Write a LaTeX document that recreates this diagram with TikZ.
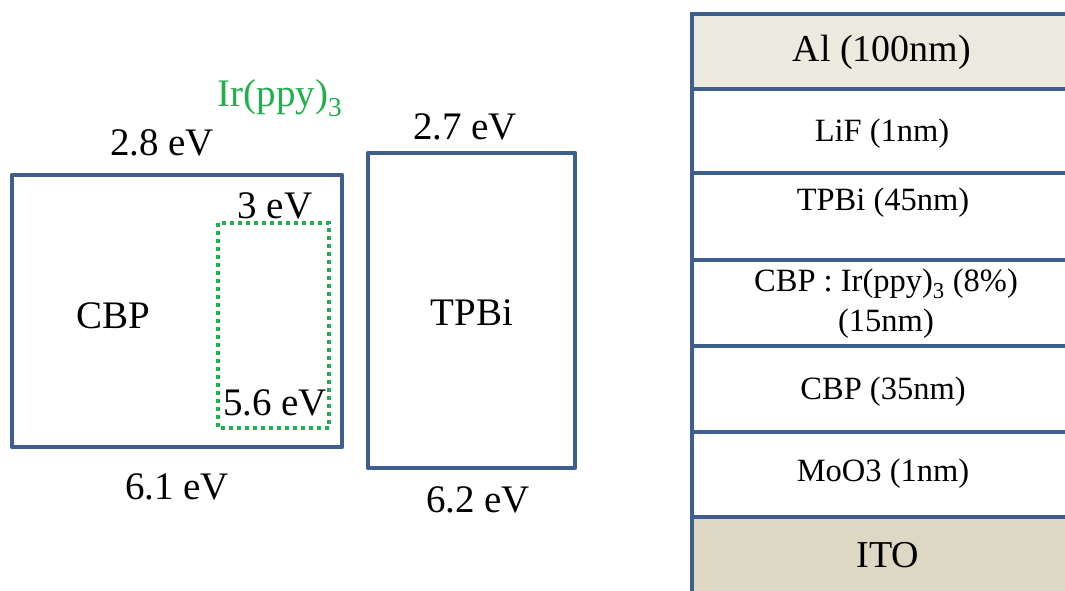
\documentclass[tikz,border=0pt]{standalone}
\usepackage{fontspec}
\setmainfont{Liberation Serif}
\definecolor{edge}{HTML}{3E5F8C}
\definecolor{dopant}{HTML}{22B04E}
\definecolor{alfill}{HTML}{ECE9DE}
\definecolor{itofill}{HTML}{DDD8C3}
\tikzset{
  level/.style={draw=edge, line width=4.6pt, line join=round},
  guest/.style={draw=dopant, line width=4.2pt, dash pattern=on 4pt off 4pt},
  big/.style={font=\fontsize{39}{44}\selectfont, inner sep=0pt},
  unit/.style={font=\fontsize{38}{44}\selectfont, inner sep=0pt},
  layer/.style={font=\fontsize{32.5}{40}\selectfont, inner sep=0pt, align=center},
  sep/.style={draw=edge, line width=4.6pt},
}
\begin{document}
\begin{tikzpicture}[x=1pt,y=-1pt]
\useasboundingbox (0,0) rectangle (1065,590);

% energy levels
\draw[level] (12,175) rectangle (342,447);
\draw[guest] (218,223) rectangle (329,428);
\draw[level] (368,153) rectangle (575,468);

\node[big] (lumo1) at (162,143) {2.8 eV};
\node[big, text=dopant] (irname) at (280,98) {Ir(ppy)\textsubscript{3}};
\node[big] (lumo2) at (275,206) {3 eV};
\node[big] (host) at (113,316) {CBP};
\node[big] (homo2) at (275,403) {5.6 eV};
\node[big] (homo1) at (177,487) {6.1 eV};
\node[big] (lumo3) at (465,127) {2.7 eV};
\node[big] (etl) at (472,313) {TPBi};
\node[big] (homo3) at (478,500) {6.2 eV};

% device stack
\fill[alfill] (692,14) rectangle (1070,89);
\fill[itofill] (692,517) rectangle (1070,595);
\foreach \y in {14,89,173,260,346,432,517}
  \draw[sep] (692,\y) -- (1070,\y);
\draw[sep] (692,12) -- (692,595);

\node[unit] (al) at (882,52) {Al (100nm)};
\node[layer] (lif) at (882,134) {LiF (1nm)};
\node[layer] (tpbi) at (883,203) {TPBi (45nm)};
\node[layer] (eml) at (886,304) {CBP : Ir(ppy)\textsubscript{3} (8\%)\\(15nm)};
\node[layer] (cbp) at (883,392) {CBP (35nm)};
\node[layer] (moo) at (883,474) {MoO3 (1nm)};
\node[unit] (ito) at (888,555) {ITO};
\end{tikzpicture}
\end{document}
